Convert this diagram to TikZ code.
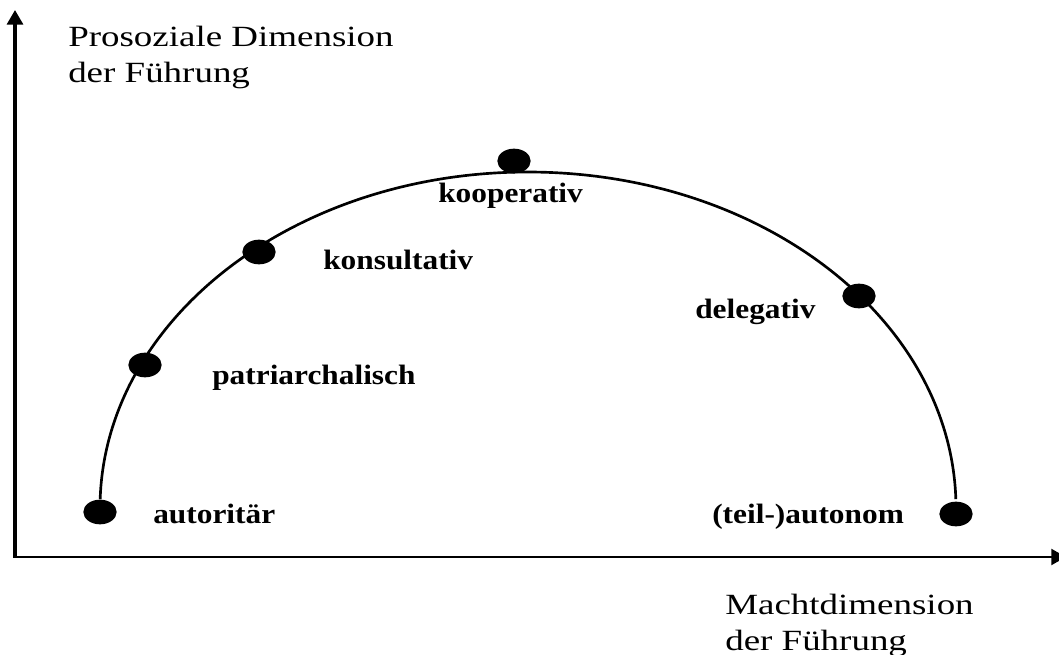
\documentclass[tikz,border=0pt]{standalone}
\usepackage{fontspec}
\usepackage{tikz}
\usetikzlibrary{arrows.meta, shapes.geometric}
\newfontfamily\axisfont{Liberation Serif}[FakeStretch=1.26]
\newfontfamily\stylefont{Liberation Serif}[FakeStretch=1.12]

\begin{document}
\begin{tikzpicture}[
    x=0.75pt, y=-0.75pt,
    dot/.style={ellipse, fill=black, minimum width=25pt, minimum height=18.5pt, inner sep=0pt},
    stylelabel/.style={anchor=base west, inner sep=0pt, font=\stylefont\bfseries\fontsize{21}{25}\selectfont},
    axislabel/.style={anchor=base west, inner sep=0pt, align=left, font=\axisfont\fontsize{22}{27}\selectfont},
    axis/.style={-{Triangle[length=11pt, width=12pt]}}
]
    \useasboundingbox (0,0) rectangle (1059,655);
    % Axes
    \coordinate (O) at (15,557);
    \coordinate (Ytop) at (15,10);
    \coordinate (Xend) at (1066,557);
    \draw[axis, line width=2.4pt] (O) -- (Ytop);
    \draw[axis, line width=1.5pt] ([xshift=-1.2pt]O) -- (Xend);
    % base anchor sits on the last line
    \node[axislabel] (ylab) at (68,83) {Prosoziale Dimension\\der Führung};
    \node[axislabel] (xlab) at (725,650) {Machtdimension\\der Führung};
    % Arc of leadership styles (y axis points down)
    \draw[line width=2pt] (528,508) ++(181.5:428 and 336) arc[start angle=181.5, end angle=358.5, x radius=428, y radius=336];
    % Styles
    \node[dot] (aut) at (100,512) {};
    \node[dot] (pat) at (145,365) {};
    \node[dot] (kon) at (259,252) {};
    \node[dot] (koo) at (514,161) {};
    \node[dot] (del) at (859,296) {};
    \node[dot] (ton) at (956,514) {};
    \node[stylelabel] (autlab) at (153,523) {autoritär};
    \node[stylelabel] (patlab) at (212,385) {patriarchalisch};
    \node[stylelabel] (konlab) at (323,270) {konsultativ};
    \node[stylelabel] (koolab) at (438,203) {kooperativ};
    \node[stylelabel] (dellab) at (695,319) {delegativ};
    \node[stylelabel] (tonlab) at (712,523) {(teil-)autonom};
\end{tikzpicture}
\end{document}
